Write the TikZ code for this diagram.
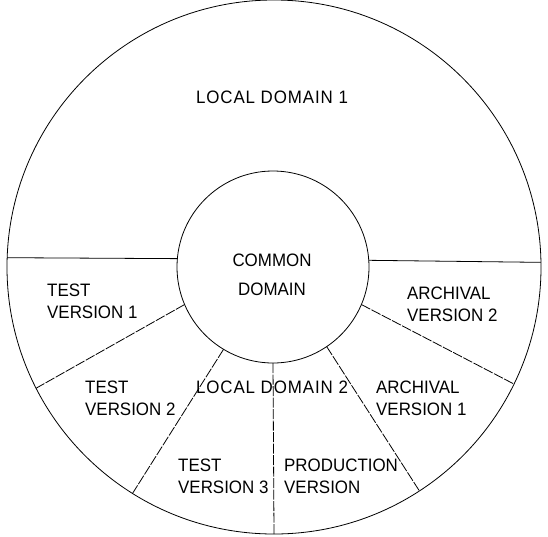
\documentclass[tikz,border=0pt]{standalone}
\usepackage{fontspec}
\setmainfont[FakeStretch=0.94]{Liberation Sans}
\usetikzlibrary{positioning}

\tikzset{
    domainring/.style={circle, draw, line width=0.8pt, inner sep=0pt, outer sep=0pt},
    divider/.style={line width=0.8pt},
    splitline/.style={line width=0.8pt, dash pattern=on 10pt off 1.5pt},
    label text/.style={font=\fontsize{18}{22}\selectfont, inner sep=0pt, align=left, anchor=base west},
    title text/.style={font=\fontsize{18}{29}\selectfont, inner sep=0pt, align=center, anchor=base},
    wide title/.style={title text, font=\fontsize{18}{29}\selectfont\addfontfeature{LetterSpace=5}}
}

\begin{document}
\begin{tikzpicture}[x=1pt, y=-1pt]
    \useasboundingbox (0,0) rectangle (548,536);

    % Outer and common domain circles
    \node[domainring, minimum size=534pt] (outer) at (274,267) {};
    \node[domainring, minimum size=192pt] (common) at (273,267) {};

    % Horizontal dividers of local domain 1
    \draw[divider] (outer.178.3) -- (common.175.2);
    \draw[divider] (common.4.8) -- (outer.1.7);

    % Version boundaries in local domain 2
    \draw[splitline] (common.203.7) -- (outer.207);
    \draw[splitline] (common.239) -- (outer.238.3);
    \draw[splitline] (common.270) -- (outer.270);
    \draw[splitline] (common.304.3) -- (outer.303);
    \draw[splitline] (common.337) -- (outer.334.3);

    % Domain names (anchored on the last baseline)
    \node[wide title] (local1) at (272,103) {LOCAL DOMAIN 1};
    \node[title text] (commonname) at (272,295) {COMMON\\DOMAIN};
    \node[wide title] (local2) at (272,393) {LOCAL DOMAIN 2};

    % Versions
    \node[label text] (test1) at (47,318) {TEST\\VERSION 1};
    \node[label text] (test2) at (85,415) {TEST\\VERSION 2};
    \node[label text] (test3) at (178,493) {TEST\\VERSION 3};
    \node[label text] (prod) at (284,493) {PRODUCTION\\VERSION};
    \node[label text] (arch1) at (376,415) {ARCHIVAL\\VERSION 1};
    \node[label text] (arch2) at (407,321) {ARCHIVAL\\VERSION 2};

\end{tikzpicture}
\end{document}
